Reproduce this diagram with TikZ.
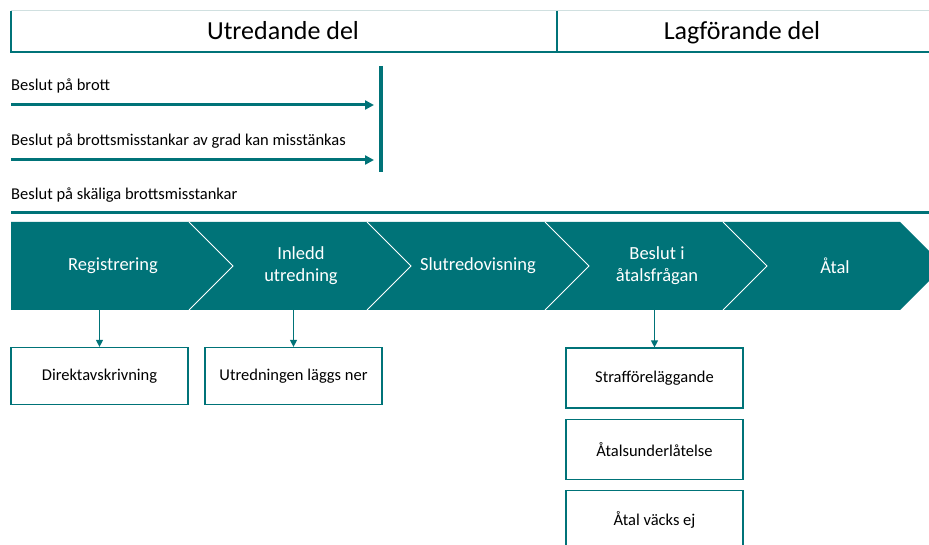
\documentclass[tikz,border=0pt]{standalone}
\usepackage{fontspec}
\setmainfont{Carlito}
\usetikzlibrary{arrows.meta,positioning}
\definecolor{brateal}{RGB}{0,115,120}
\definecolor{headgray}{RGB}{208,224,224}

\begin{document}
\begin{tikzpicture}[x=1pt, y=-1pt, node distance=10pt,
    head/.style={anchor=base, font=\fontsize{26}{30}\selectfont},
    lbl/.style={anchor=west, inner sep=0pt, font=\fontsize{16.5}{19}\selectfont},
    stagetext/.style={text=white, align=center, font=\fontsize{18.5}{22}\selectfont},
    outcome/.style={draw=brateal, line width=1.2pt, minimum width=177pt, minimum height=57pt, inner sep=0pt, font=\fontsize{16.5}{19}\selectfont},
    level/.style={brateal, line width=3pt, -{Triangle[length=9pt,width=9pt]}},
    down/.style={brateal, line width=1.2pt, -{Triangle[length=7pt,width=7pt]}}]

    \useasboundingbox (0,0) rectangle (929,545);

    % header
    \draw[headgray, line width=1pt] (11,11) -- (929,11);
    \draw[brateal, line width=1.2pt] (11,11) -- (11,52) -- (929,52);
    \draw[brateal, line width=1.2pt] (557,11) -- (557,52);
    \node[head] (utr) at (283,40) {Utredande del};
    \node[head] (lag) at (742,40) {Lagförande del};

    % levels of suspicion
    \node[lbl] (brott) at (11,86) {Beslut på brott};
    \node[lbl] (kan) at (11,141) {Beslut på brottsmisstankar av grad kan misstänkas};
    \node[lbl] (skalig) at (11,195) {Beslut på skäliga brottsmisstankar};
    \coordinate (a1s) at (11,105);
    \coordinate (a1e) at (374,105);
    \coordinate (a2s) at (11,160);
    \coordinate (a2e) at (374,160);
    \draw[level] (a1s) -- (a1e);
    \draw[level] (a2s) -- (a2e);
    \draw[brateal, line width=4pt] (381,66) -- (381,172);
    \draw[brateal, line width=3pt] (11,213) -- (929,213);

    % process band
    \fill[brateal] (11,222) -- (900,222) -- (944,266) -- (900,310) -- (11,310) -- cycle;
    \foreach \x in {189,367,545,723}
        \draw[white, line width=1pt] (\x,222) -- (\x+44,266) -- (\x,310);
    \coordinate (band) at (11,310);

    \node[stagetext] (reg) at (113,266) {Registrering};
    \node[stagetext] (inl) at (301,266) {Inledd\\utredning};
    \node[stagetext] (slut) at (478,266) {Slutredovisning};
    \node[stagetext] (besl) at (657,266) {Beslut i\\åtalsfrågan};
    \node[stagetext] (atal) at (835,266) {Åtal};

    % outcomes
    \node[outcome] (dir) at (99.5,376) {Direktavskrivning};
    \node[outcome] (ner) at (293.5,376) {Utredningen läggs ner};
    \node[outcome, minimum height=60pt] (straff) at (654.5,378) {Strafföreläggande};
    \node[outcome, minimum height=60pt, below=of straff] (underl) {Åtalsunderlåtelse};
    \node[outcome, minimum height=60pt, below=of underl] (vacks) {Åtal väcks ej};

    \draw[down] (band -| dir.north) -- (dir.north);
    \draw[down] (band -| ner.north) -- (ner.north);
    \draw[down] (band -| straff.north) -- (straff.north);
\end{tikzpicture}
\end{document}
